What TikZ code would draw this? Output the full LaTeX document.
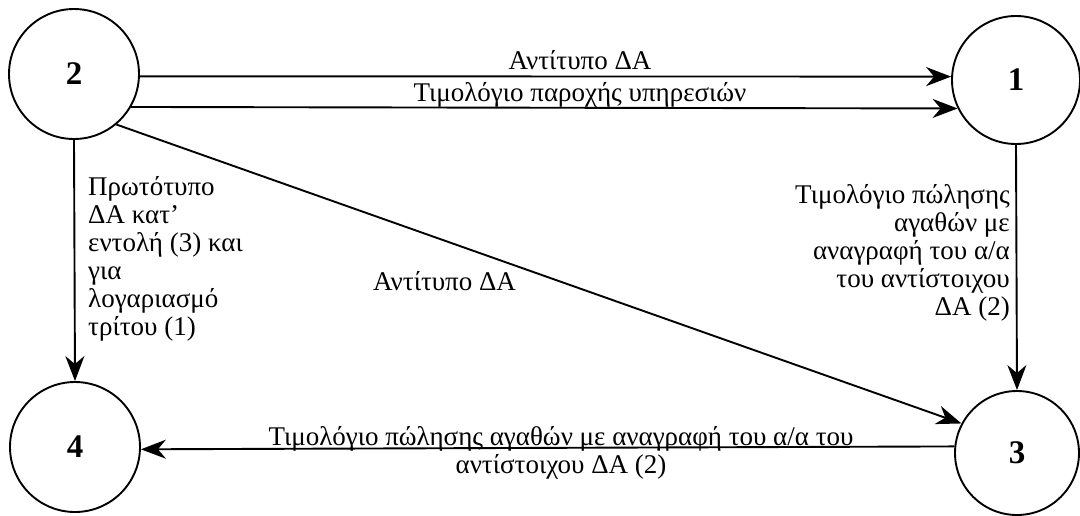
\documentclass[tikz,border=0pt]{standalone}
\usepackage{fontspec}
\setmainfont{Liberation Serif}
\usetikzlibrary{arrows.meta}
\begin{document}
\begin{tikzpicture}[x=1pt,y=-1pt,
  state/.style={circle,draw,line width=1.9pt,inner sep=0pt,font=\fontsize{33}{36}\selectfont\bfseries},
  flow/.style={line width=1.9pt,-{Stealth[length=25pt,width=19pt,inset=8pt]}},
  lbl/.style={font=\fontsize{27}{28}\selectfont,inner sep=0pt}]
  \useasboundingbox (0,0) rectangle (1080,515);
  % the four parties
  \node[state,minimum size=130pt] (n2) at (74,74) {2};
  \node[state,minimum size=128pt] (n1) at (1016,80) {1};
  \node[state,minimum size=130pt] (n4) at (75,447) {4};
  \node[state,minimum size=124pt] (n3) at (1017,453) {3};
  % documents passed between them
  \draw[flow] (n2.-2) -- (n1.177);
  \draw[flow] (n2.-30.5) -- (n1.206.4);
  \draw[flow] (n2.-50) -- (n3.152);
  \draw[flow] (n2.south) -- (n4.north);
  \draw[flow] (n1.south) -- (n3.north);
  \draw[flow] (n3.174.5) -- (n4.-2);
  % labels
  \node[lbl,anchor=base] (t1) at (580,69) {Αντίτυπο ΔΑ};
  \node[lbl,anchor=base] (t2) at (580,101) {Τιμολόγιο παροχής υπηρεσιών};
  \node[lbl,anchor=north west,align=left] (t3) at (88,176)
    {Πρωτότυπο\\ΔΑ κατ’\\εντολή (3) και\\για\\λογαριασμό\\τρίτου (1)};
  \node[lbl,anchor=base west] (t4) at (373,290) {Αντίτυπο ΔΑ};
  \node[lbl,anchor=north east,align=right] (t5) at (1010,184)
    {Τιμολόγιο πώλησης\\αγαθών με\\αναγραφή του α/α\\του αντίστοιχου\\ΔΑ (2)};
  \node[lbl,align=center] (t6) at (561,453)
    {Τιμολόγιο πώλησης αγαθών με αναγραφή του α/α του\\αντίστοιχου ΔΑ (2)};
\end{tikzpicture}
\end{document}
